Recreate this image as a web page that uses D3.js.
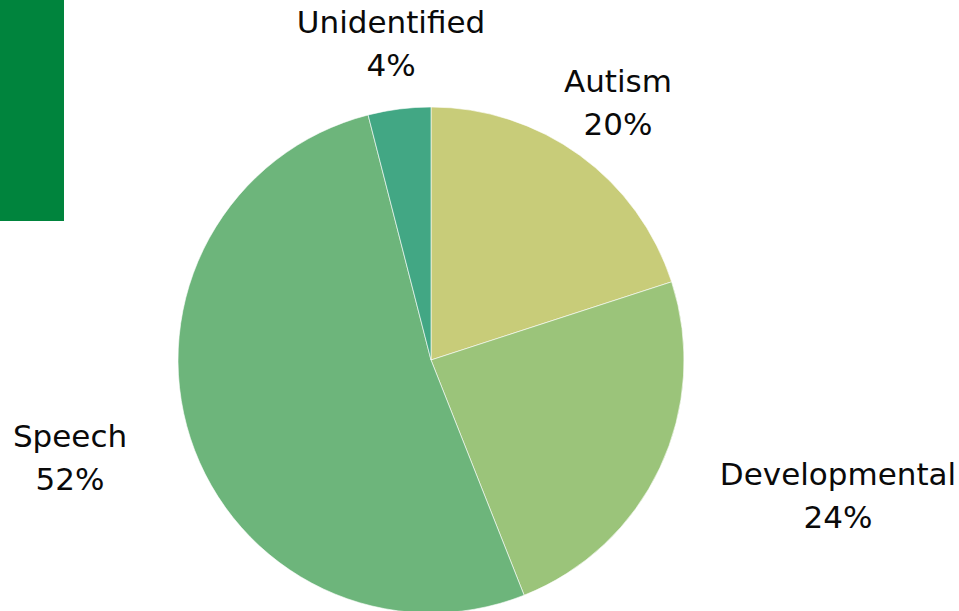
<!DOCTYPE html>
<html>
<head>
<meta charset="utf-8">
<script src="https://cdn.jsdelivr.net/npm/d3@7"></script>
<style>
  html, body { margin: 0; padding: 0; background: #ffffff; }
  svg { display: block; }
  text { font-family: "DejaVu Sans", sans-serif; fill: #0a0a0a; }
</style>
</head>
<body>
<div id="chart"></div>
<script>
// Share of referrals by category (percent)
const categories = ["Autism", "Developmental", "Speech", "Unidentified"];
const values = [20, 24, 52, 4];
const percentLabels = ["20%", "24%", "52%", "4%"];
const colors = ["#C8CC79", "#9BC47A", "#6DB57B", "#42A784"];

// Label anchor points (text centre, first baseline)
const labelAnchors = [[618, 92], [838, 485], [70, 447], [391, 33]];

const width = 959, height = 611;
const cx = 431, cy = 360, radius = 253;

const svg = d3.select("#chart").append("svg")
  .attr("width", width)
  .attr("height", height);

// Corner accent block
svg.append("rect")
  .attr("x", 0).attr("y", 0)
  .attr("width", 64).attr("height", 221)
  .attr("fill", "#00843D");

const rows = categories.map((c, i) => ({ category: c, value: values[i], label: percentLabels[i], color: colors[i], anchor: labelAnchors[i] }));

const pie = d3.pie().value(d => d.value).sort(null);
const arc = d3.arc().innerRadius(0).outerRadius(radius);

const g = svg.append("g").attr("transform", `translate(${cx},${cy})`);

g.selectAll("path")
  .data(pie(rows))
  .join("path")
  .attr("d", arc)
  .attr("fill", d => d.data.color)
  .attr("stroke", "#ffffff")
  .attr("stroke-width", 0.6);

const labels = svg.selectAll("text.label")
  .data(rows)
  .join("text")
  .attr("class", "label")
  .attr("text-anchor", "middle")
  .attr("font-size", 31);

labels.append("tspan")
  .attr("x", d => d.anchor[0])
  .attr("y", d => d.anchor[1])
  .text(d => d.category);

labels.append("tspan")
  .attr("x", d => d.anchor[0])
  .attr("y", d => d.anchor[1] + 43)
  .text(d => d.label);
</script>
</body>
</html>
